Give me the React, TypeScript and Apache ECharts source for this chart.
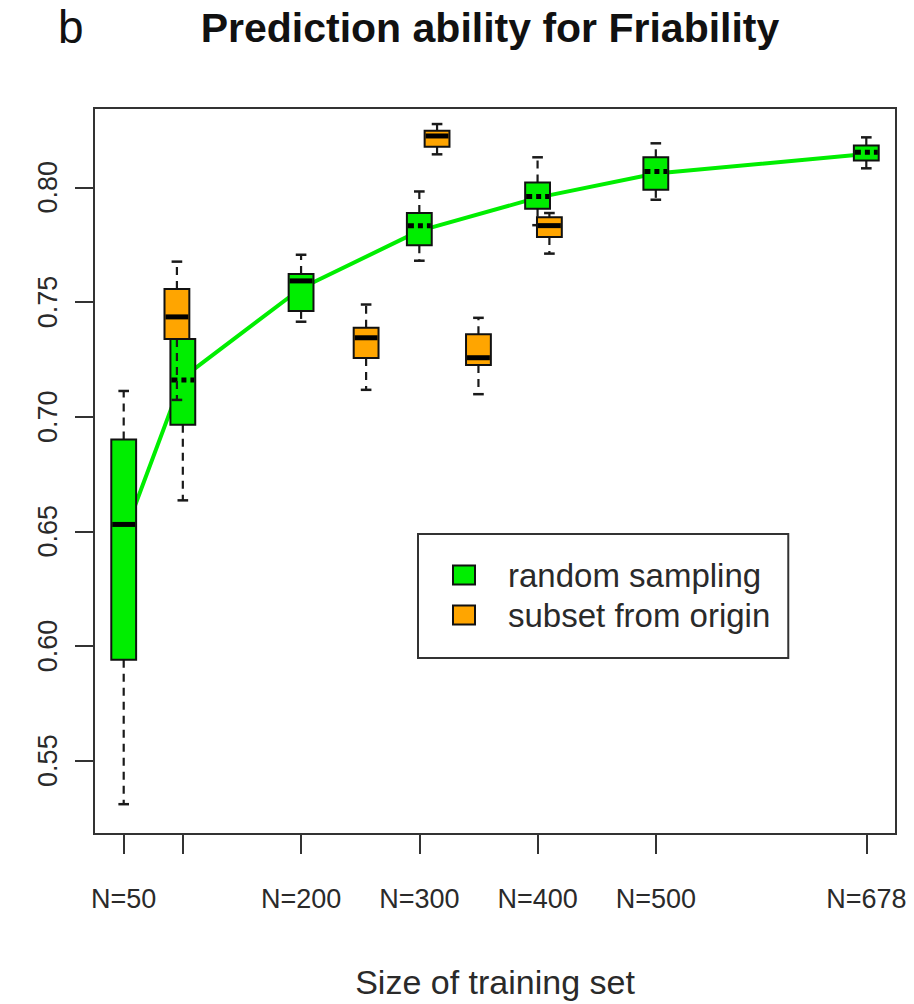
import React, { useEffect, useRef } from "react";
import * as echarts from "echarts";

// ---- data ----
const greenN = [50, 100, 200, 300, 400, 500, 678];
const greenLow = [0.531, 0.6635, 0.7414, 0.768, 0.7835, 0.7946, 0.8083];
const greenQ1 = [0.594, 0.6965, 0.7461, 0.7747, 0.7907, 0.7989, 0.8117];
const greenMedian = [0.653, 0.716, 0.7592, 0.7833, 0.796, 0.8069, 0.8153];
const greenQ3 = [0.69, 0.7339, 0.7622, 0.7888, 0.8021, 0.8131, 0.8182];
const greenHigh = [0.7112, 0.75, 0.7706, 0.7982, 0.8131, 0.8192, 0.8218];

const orangeN = [95, 255, 315, 350, 410];
const orangeLow = [0.7073, 0.7117, 0.8144, 0.7098, 0.7711];
const orangeQ1 = [0.7339, 0.7256, 0.8177, 0.7225, 0.7783];
const orangeMedian = [0.7435, 0.7344, 0.8224, 0.7257, 0.7833];
const orangeQ3 = [0.7557, 0.7388, 0.8247, 0.7359, 0.787];
const orangeHigh = [0.7676, 0.7489, 0.8276, 0.7431, 0.7888];

const trendN = [50, 100, 200, 300, 400, 500, 678];
const trendValues = [0.648, 0.717, 0.756, 0.781, 0.7955, 0.806, 0.8145];

const tickN = [50, 100, 200, 300, 400, 500, 678];
const labelN = [50, 200, 300, 400, 500, 678];
const yTicks = [0.55, 0.6, 0.65, 0.7, 0.75, 0.8];

// ---- styles ----
const GREEN = "#00ee00";
const ORANGE = "#ffa500";
const FONT = "'Liberation Sans', Arial, sans-serif";
const BOX_HALF = 10.5; // in N units
const CAP_HALF = 4.5;
const SOLID_MEDIAN_GREEN = [0, 2];

function makeRender(fill: string, dashedMedians: boolean) {
  return (params: any, api: any) => {
    const x = api.value(0);
    const c = (v: number) => api.coord([x, v]);
    const [cx, yLo] = c(api.value(1));
    const yQ1 = c(api.value(2))[1];
    const yMed = c(api.value(3))[1];
    const yQ3 = c(api.value(4))[1];
    const yHi = c(api.value(5))[1];
    const hw = api.coord([x + BOX_HALF, 0.7])[0] - cx;
    const cw = api.coord([x + CAP_HALF, 0.7])[0] - cx;
    const dashed = dashedMedians && SOLID_MEDIAN_GREEN.indexOf(params.dataIndex) < 0;
    const whisker = { stroke: "#1a1a1a", lineWidth: 2.2, lineDash: [8, 6] };
    const cap = { stroke: "#1a1a1a", lineWidth: 2.5 };
    return {
      type: "group",
      children: [
        { type: "line", shape: { x1: cx, y1: yQ1, x2: cx, y2: yLo }, style: whisker },
        { type: "line", shape: { x1: cx, y1: yQ3, x2: cx, y2: yHi }, style: whisker },
        { type: "line", shape: { x1: cx - cw, y1: yLo, x2: cx + cw, y2: yLo }, style: cap },
        { type: "line", shape: { x1: cx - cw, y1: yHi, x2: cx + cw, y2: yHi }, style: cap },
        {
          type: "rect",
          shape: { x: cx - hw, y: yQ3, width: 2 * hw, height: yQ1 - yQ3 },
          style: { fill, stroke: "#111", lineWidth: 2 },
        },
        {
          type: "line",
          shape: { x1: cx - hw + 1, y1: yMed, x2: cx + hw - 1, y2: yMed },
          style: { stroke: "#000", lineWidth: 5, lineDash: dashed ? [6, 4, 5, 4] : null },
        },
      ],
    };
  };
}

export default function App() {
  const ref = useRef<HTMLDivElement>(null);
  useEffect(() => {
    if (!ref.current) return;
    const chart = echarts.init(ref.current, null, { renderer: "svg" });
    const greenData = greenN.map((n, i) => [n, greenLow[i], greenQ1[i], greenMedian[i], greenQ3[i], greenHigh[i]]);
    const orangeData = orangeN.map((n, i) => [n, orangeLow[i], orangeQ1[i], orangeMedian[i], orangeQ3[i], orangeHigh[i]]);
    const trendData = trendN.map((n, i) => [n, trendValues[i]]);
    chart.setOption({
      animation: false,
      backgroundColor: "#fff",
      textStyle: { fontFamily: FONT },
      title: [
        {
          text: "b",
          left: 58,
          top: 4,
          padding: 0,
          textStyle: { fontSize: 46, fontWeight: "normal", color: "#111", fontFamily: FONT },
        },
        {
          text: "Prediction ability for Friability",
          left: 490,
          top: 7,
          padding: 0,
          textAlign: "center",
          textStyle: { fontSize: 41, fontWeight: "bold", color: "#111", fontFamily: FONT },
        },
      ],
      grid: {
        left: 94,
        right: 18,
        top: 108,
        bottom: 168,
        show: true,
        borderColor: "#333",
        borderWidth: 2,
        backgroundColor: "transparent",
      },
      xAxis: {
        type: "value",
        min: 24.88,
        max: 703.12,
        splitLine: { show: false },
        axisLine: { show: false },
        axisTick: {
          show: true,
          customValues: tickN,
          length: 20,
          lineStyle: { color: "#333", width: 2 },
        },
        axisLabel: {
          customValues: labelN,
          formatter: (v: number) => "N=" + v,
          fontSize: 27,
          color: "#2a2a2a",
          margin: 51,
          fontFamily: FONT,
        },
        name: "Size of training set",
        nameLocation: "middle",
        nameGap: 131,
        nameTextStyle: { fontSize: 34, color: "#2a2a2a", fontFamily: FONT },
      },
      yAxis: {
        type: "value",
        min: 0.518,
        max: 0.8346,
        splitLine: { show: false },
        axisLine: { show: false },
        axisTick: {
          show: true,
          customValues: yTicks,
          length: 19,
          lineStyle: { color: "#333", width: 2 },
        },
        axisLabel: {
          customValues: yTicks,
          formatter: (v: number) => v.toFixed(2),
          rotate: 90,
          fontSize: 27,
          color: "#2a2a2a",
          margin: 33,
          fontFamily: FONT,
        },
      },
      legend: {
        data: ["random sampling", "subset from origin"],
        orient: "vertical",
        left: 418,
        top: 534,
        padding: [24, 18, 26, 34],
        itemGap: 6,
        itemWidth: 22,
        itemHeight: 19,
        icon: "rect",
        borderColor: "#333",
        borderWidth: 2,
        backgroundColor: "#fff",
        itemStyle: { borderColor: "#111", borderWidth: 2 },
        textStyle: {
          fontSize: 33,
          lineHeight: 34,
          color: "#2a2a2a",
          fontFamily: FONT,
          padding: [0, 0, 0, 28],
        },
      },
      series: [
        {
          type: "line",
          data: trendData,
          symbol: "none",
          z: 1,
          lineStyle: { color: GREEN, width: 4 },
          silent: true,
        },
        {
          name: "random sampling",
          type: "custom",
          data: greenData,
          encode: { x: 0, y: [1, 2, 3, 4, 5] },
          itemStyle: { color: GREEN },
          z: 2,
          renderItem: makeRender(GREEN, true),
        },
        {
          name: "subset from origin",
          type: "custom",
          data: orangeData,
          encode: { x: 0, y: [1, 2, 3, 4, 5] },
          itemStyle: { color: ORANGE },
          z: 3,
          renderItem: makeRender(ORANGE, false),
        },
      ],
    });
    return () => chart.dispose();
  }, []);
  return (
    <div
      ref={ref}
      style={{ position: "absolute", left: 0, top: 0, width: 914, height: 1004, background: "#fff" }}
    />
  );
}
